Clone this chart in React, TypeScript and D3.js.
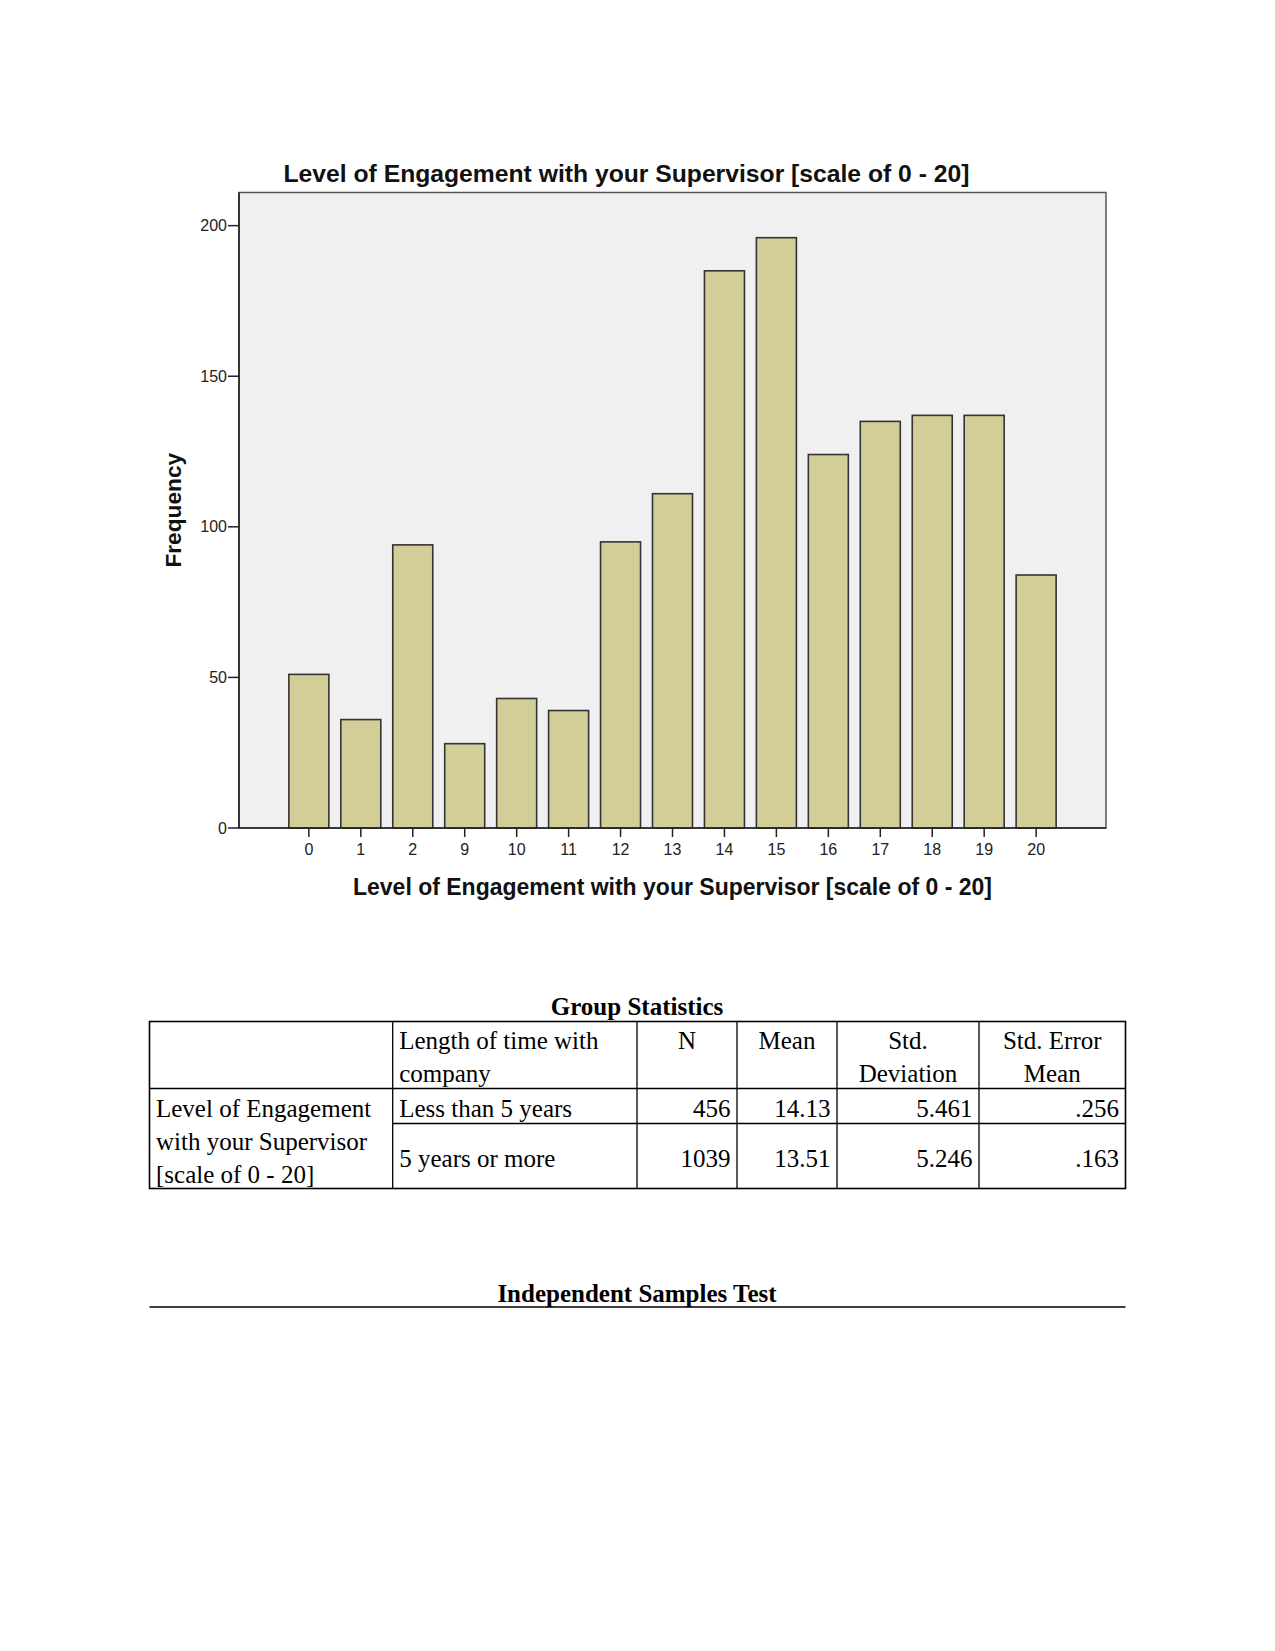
import React from "react";
import * as d3 from "d3";

// histogram values (sum = 1495 = 456 + 1039)
const categories = ["0", "1", "2", "9", "10", "11", "12", "13", "14", "15", "16", "17", "18", "19", "20"];
const frequencies = [51, 36, 94, 28, 43, 39, 95, 111, 185, 196, 124, 135, 137, 137, 84];

const chartTitle = "Level of Engagement with your Supervisor [scale of 0 - 20]";
const yLabel = "Frequency";

// group statistics table
const headerLabels = [["Length of time with", "company"], ["N"], ["Mean"], ["Std.", "Deviation"], ["Std. Error", "Mean"]];
const variableLabel = ["Level of Engagement", "with your Supervisor", "[scale of 0 - 20]"];
const groups = ["Less than 5 years", "5 years or more"];
const nValues = ["456", "1039"];
const means = ["14.13", "13.51"];
const stdDevs = ["5.461", "5.246"];
const stdErrors = [".256", ".163"];

const W = 1275;
const H = 1651;

const plot = { left: 239, right: 1106, top: 192.5, bottom: 828 };

const sans = "'Liberation Sans', Arial, sans-serif";
const serif = "'Liberation Serif', 'Times New Roman', serif";

const BarChart = () => {
  const x = d3.scaleBand<string>()
    .domain(categories)
    .range([plot.left, plot.right])
    .paddingInner(0.23)
    .paddingOuter(0.96);

  const y = d3.scaleLinear()
    .domain([0, 211])
    .range([plot.bottom, plot.top]);

  const yTicks = y.ticks(5);

  return (
    <g>
      <text x={626.5} y={182} textAnchor="middle" fontFamily={sans} fontWeight="bold" fontSize={24.7} fill="#111">
        {chartTitle}
      </text>
      <rect x={plot.left} y={plot.top} width={plot.right - plot.left} height={plot.bottom - plot.top}
        fill="#f0f0f0" stroke="#555" strokeWidth={1.5} />
      {categories.map((c, i) => (
        <rect key={c} x={x(c)} y={y(frequencies[i])} width={x.bandwidth()}
          height={y(0) - y(frequencies[i])} fill="#d3ce97" stroke="#333" strokeWidth={1.6} />
      ))}
      {/* axes */}
      <line x1={plot.left} x2={plot.left} y1={plot.top} y2={plot.bottom} stroke="#222" strokeWidth={1.6} />
      <line x1={plot.left} x2={plot.right} y1={plot.bottom} y2={plot.bottom} stroke="#222" strokeWidth={1.6} />
      {yTicks.map(t => (
        <g key={t} transform={`translate(0,${y(t)})`}>
          <line x1={plot.left - 11} x2={plot.left} stroke="#222" strokeWidth={1.5} />
          <text x={plot.left - 12} dy="0.35em" textAnchor="end" fontFamily={sans} fontSize={16} fill="#222">{t}</text>
        </g>
      ))}
      {categories.map(c => {
        const cx = (x(c) ?? 0) + x.bandwidth() / 2;
        return (
          <g key={c} transform={`translate(${cx},${plot.bottom})`}>
            <line y1={0} y2={9} stroke="#222" strokeWidth={1.5} />
            <text y={27} textAnchor="middle" fontFamily={sans} fontSize={16} fill="#222">{c}</text>
          </g>
        );
      })}
      <text x={(plot.left + plot.right) / 2} y={895} textAnchor="middle" fontFamily={sans} fontWeight="bold"
        fontSize={23} fill="#111">{chartTitle}</text>
      <text transform={`translate(181,${(plot.top + plot.bottom) / 2}) rotate(-90)`} textAnchor="middle"
        fontFamily={sans} fontWeight="bold" fontSize={22.7} fill="#111">{yLabel}</text>
    </g>
  );
};

const StatsTable = () => {
  const cols = [149.5, 392.7, 637, 737, 837, 979, 1125.5];
  const rows = [1021.5, 1088.5, 1123.5, 1188.5];
  const fs = 25;
  const pad = 6.5;
  const rowBase = [1117, 1166.5];
  const numCols = [nValues, means, stdDevs, stdErrors];

  return (
    <g fontFamily={serif} fontSize={fs} fill="#000">
      <text x={637} y={1015} textAnchor="middle" fontWeight="bold">Group Statistics</text>
      {/* borders */}
      <rect x={cols[0]} y={rows[0]} width={cols[6] - cols[0]} height={rows[3] - rows[0]} fill="none" stroke="#000" strokeWidth={1.6} />
      {cols.slice(1, 6).map(cx => (
        <line key={cx} x1={cx} x2={cx} y1={rows[0]} y2={rows[3]} stroke="#000" strokeWidth={1.3} />
      ))}
      <line x1={cols[0]} x2={cols[6]} y1={rows[1]} y2={rows[1]} stroke="#000" strokeWidth={1.3} />
      <line x1={cols[1]} x2={cols[6]} y1={rows[2]} y2={rows[2]} stroke="#000" strokeWidth={1.3} />
      {/* header */}
      {headerLabels[0].map((s, k) => (
        <text key={s} x={cols[1] + pad} y={1048.5 + k * 33}>{s}</text>
      ))}
      {headerLabels.slice(1).map((lines, j) =>
        lines.map((s, k) => (
          <text key={s + j} x={(cols[j + 2] + cols[j + 3]) / 2} y={1048.5 + k * 33} textAnchor="middle">{s}</text>
        ))
      )}
      {variableLabel.map((s, k) => (
        <text key={s} x={cols[0] + pad} y={1117 + k * 33}>{s}</text>
      ))}
      {groups.map((g, i) => (
        <g key={g}>
          <text x={cols[1] + pad} y={rowBase[i]}>{g}</text>
          {numCols.map((col, j) => (
            <text key={j} x={cols[j + 3] - pad} y={rowBase[i]} textAnchor="end">{col[i]}</text>
          ))}
        </g>
      ))}
      <text x={637} y={1301.5} textAnchor="middle" fontWeight="bold">Independent Samples Test</text>
      <line x1={cols[0]} x2={cols[6]} y1={1307} y2={1307} stroke="#000" strokeWidth={1.3} />
    </g>
  );
};

export default function App() {
  return (
    <div style={{ position: "absolute", left: 0, top: 0, width: W, height: H, background: "#fff" }}>
      <svg width={W} height={H} viewBox={`0 0 ${W} ${H}`} style={{ display: "block" }}>
        <rect width={W} height={H} fill="#fff" />
        <BarChart />
        <StatsTable />
      </svg>
    </div>
  );
}
